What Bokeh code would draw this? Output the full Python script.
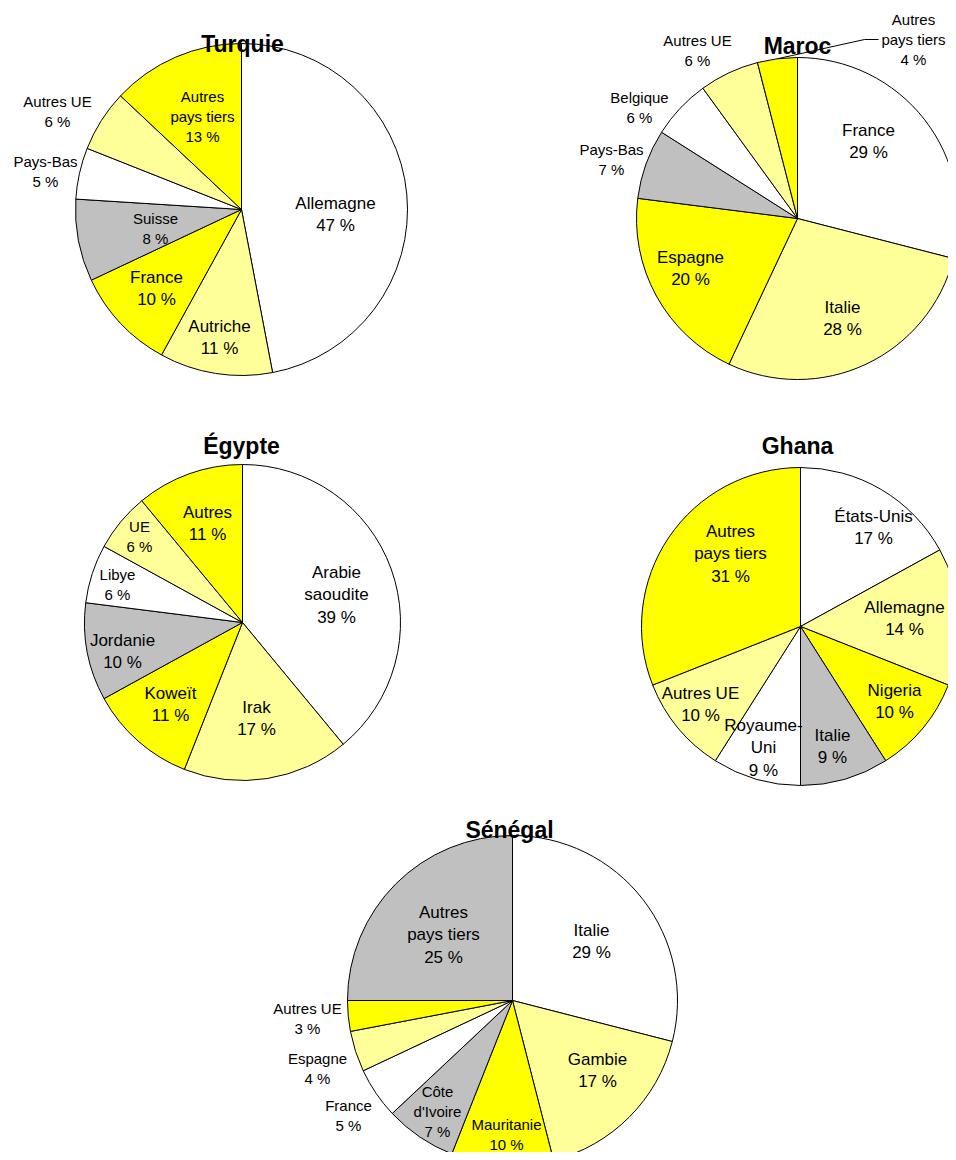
import math
from bokeh.plotting import figure
from bokeh.models import Range1d, ColumnDataSource
from bokeh.core.properties import value
from bokeh.embed import file_html
from bokeh.resources import INLINE

# ---------------- data ----------------
WHITE = "#FFFFFF"
LIGHT = "#FFFF99"
YELLOW = "#FFFF00"
GREY = "#C0C0C0"

turquie_names = ["Allemagne", "Autriche", "France", "Suisse", "Pays-Bas", "Autres UE", "Autres pays tiers"]
turquie_values = [47, 11, 10, 8, 5, 6, 13]
turquie_colors = [WHITE, LIGHT, YELLOW, GREY, WHITE, LIGHT, YELLOW]

maroc_names = ["France", "Italie", "Espagne", "Pays-Bas", "Belgique", "Autres UE", "Autres pays tiers"]
maroc_values = [29, 28, 20, 7, 6, 6, 4]
maroc_colors = [WHITE, LIGHT, YELLOW, GREY, WHITE, LIGHT, YELLOW]

egypte_names = ["Arabie saoudite", "Irak", "Koweït", "Jordanie", "Libye", "UE", "Autres"]
egypte_values = [39, 17, 11, 10, 6, 6, 11]
egypte_colors = [WHITE, LIGHT, YELLOW, GREY, WHITE, LIGHT, YELLOW]

ghana_names = ["États-Unis", "Allemagne", "Nigeria", "Italie", "Royaume-Uni", "Autres UE", "Autres pays tiers"]
ghana_values = [17, 14, 10, 9, 9, 10, 31]
ghana_colors = [WHITE, LIGHT, YELLOW, GREY, WHITE, LIGHT, YELLOW]

senegal_names = ["Italie", "Gambie", "Mauritanie", "Côte d'Ivoire", "France", "Espagne", "Autres UE", "Autres pays tiers"]
senegal_values = [29, 17, 10, 7, 5, 4, 3, 25]
senegal_colors = [WHITE, LIGHT, YELLOW, GREY, WHITE, LIGHT, YELLOW, GREY]

# line breaks used in the labels
BREAKS = {
    "Autres pays tiers": ["Autres", "pays tiers"],
    "Arabie saoudite": ["Arabie", "saoudite"],
    "Royaume-Uni": ["Royaume-", "Uni"],
    "Côte d'Ivoire": ["Côte", "d'Ivoire"],
}

# ---------------- layout (screen pixels) ----------------
# label centre (x, y) and font size per slice
turquie_lab = [(335, 214, 17), (219, 337, 17), (156, 288, 17), (155, 228, 15),
               (45, 171, 15), (57, 111, 15), (202, 116, 15)]
maroc_lab = [(868, 141, 17), (842, 318, 17), (690, 268, 17), (611, 159, 15),
             (639, 107, 15), (697, 50, 15), (913, 39, 15)]
egypte_lab = [(336, 594, 17), (256, 718, 17), (170, 704, 17), (122, 651, 17),
              (117, 584, 15), (139, 536, 15), (207, 523, 17)]
ghana_lab = [(873, 527, 17), (904, 618, 17), (894, 701, 17), (832, 746, 17),
             (763, 747, 17), (700, 704, 17), (730, 553, 17)]
senegal_lab = [(591, 941, 17), (597, 1070, 17), (506, 1134, 15), (437, 1111, 15),
               (348, 1115, 15), (317, 1068, 15), (307, 1018, 15), (443, 934, 17)]

PIES = [
    dict(title="Turquie", names=turquie_names, values=turquie_values, colors=turquie_colors,
         cx=241, cy=209, r=166, tx=242, ty=43, labels=turquie_lab),
    dict(title="Maroc", names=maroc_names, values=maroc_values, colors=maroc_colors,
         cx=797, cy=218, r=161, tx=797, ty=45, labels=maroc_lab,
         leader=(6, [(864, 39), (878, 39)])),
    dict(title="Égypte", names=egypte_names, values=egypte_values, colors=egypte_colors,
         cx=242, cy=622, r=158, tx=241, ty=445, labels=egypte_lab),
    dict(title="Ghana", names=ghana_names, values=ghana_values, colors=ghana_colors,
         cx=800, cy=626, r=159, tx=797, ty=445, labels=ghana_lab),
    dict(title="Sénégal", names=senegal_names, values=senegal_values, colors=senegal_colors,
         cx=512, cy=1000, r=165, tx=509, ty=829, labels=senegal_lab),
]

W, H = 948, 1152


def Y(s):
    return H - s


p = figure(width=W, height=H, x_range=Range1d(0, W), y_range=Range1d(0, H),
           output_backend="svg", toolbar_location=None,
           x_axis_location=None, y_axis_location=None, min_border=0)
p.grid.visible = False
p.outline_line_color = None
p.background_fill_color = "white"

FONT = value("Liberation Sans")

for pie in PIES:
    vals = pie["values"]
    tot = float(sum(vals))
    cum = [0.0]
    for v in vals:
        cum.append(cum[-1] + v / tot)
    starts = [math.pi / 2 - 2 * math.pi * c for c in cum[:-1]]
    ends = [math.pi / 2 - 2 * math.pi * c for c in cum[1:]]
    src = ColumnDataSource(dict(x=[pie["cx"]] * len(vals), y=[Y(pie["cy"])] * len(vals),
                                start=starts, end=ends, color=pie["colors"]))
    p.wedge(x="x", y="y", radius=pie["r"], radius_units="screen",
            start_angle="start", end_angle="end", direction="clock",
            fill_color="color", line_color="black", line_width=1, source=src)

    # leader line
    if "leader" in pie:
        idx, pts = pie["leader"]
        mid = (cum[idx] + cum[idx + 1]) / 2 * 2 * math.pi
        sx = pie["cx"] + pie["r"] * math.sin(mid)
        sy = pie["cy"] - pie["r"] * math.cos(mid)
        xs = [sx] + [q[0] for q in pts]
        ys = [Y(sy)] + [Y(q[1]) for q in pts]
        p.line(xs, ys, line_color="black", line_width=1)

    # labels
    for name, v, (lx, ly, fs) in zip(pie["names"], vals, pie["labels"]):
        lines = BREAKS.get(name, [name]) + [f"{v} %"]
        n = len(lines)
        sp = 22.5 if fs == 17 else 20
        xs, ys, ts = [], [], []
        for i, t in enumerate(lines):
            xs.append(lx)
            ys.append(Y(ly + (i - (n - 1) / 2) * sp))
            ts.append(t)
        p.text(x=xs, y=ys, text=ts, text_font=FONT, text_font_size=f"{fs}px",
               text_color="black", text_align="center", text_baseline="middle")

    # title
    p.text(x=[pie["tx"]], y=[Y(pie["ty"])], text=[pie["title"]], text_font=FONT,
           text_font_size="23px", text_font_style="bold", text_color="black",
           text_align="center", text_baseline="alphabetic")

open("out.html", "w").write(file_html(p, INLINE))
